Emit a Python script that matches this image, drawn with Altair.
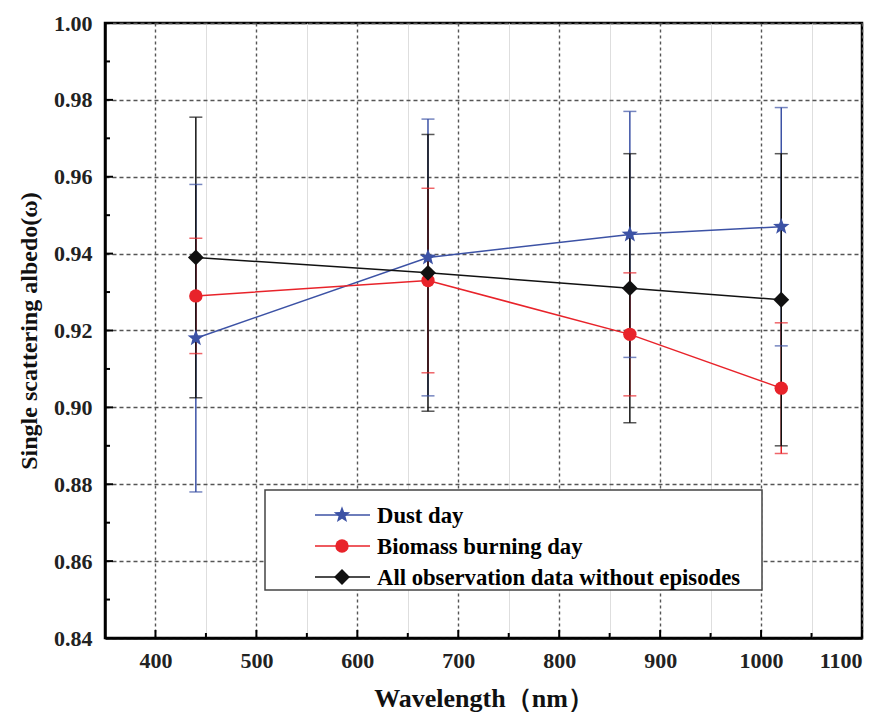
import math
import altair as alt
import pandas as pd

# ---------------- data ----------------
wavelength = [440, 670, 870, 1020]
series_names = ["Dust day", "Biomass burning day", "All observation data without episodes"]
dust_ssa = [0.918, 0.939, 0.945, 0.947]
dust_err = [0.040, 0.036, 0.032, 0.031]
biomass_ssa = [0.929, 0.933, 0.919, 0.905]
biomass_err = [0.015, 0.024, 0.016, 0.017]
all_ssa = [0.939, 0.935, 0.931, 0.928]
all_err = [0.0365, 0.036, 0.035, 0.038]

x_ticks_major = [400, 500, 600, 700, 800, 900, 1000, 1100]
x_ticks_minor = [350, 450, 550, 650, 750, 850, 950, 1050]
y_ticks_major = [0.84, 0.86, 0.88, 0.90, 0.92, 0.94, 0.96, 0.98, 1.00]
y_ticks_minor = [0.85, 0.87, 0.89, 0.91, 0.93, 0.95, 0.97, 0.99]

colors = ["#3c52a5", "#e8232a", "#111111"]

# ---------------- styling ----------------
W, H = 757, 615
FONT = "Liberation Serif, Times New Roman, serif"


def star_path(outer=1.0, inner=0.42):
    pts = []
    for i in range(10):
        r = outer if i % 2 == 0 else inner
        a = -math.pi / 2 + i * math.pi / 5
        pts.append((r * math.cos(a), r * math.sin(a)))
    return "M" + "L".join(f"{x:.3f},{y:.3f}" for x, y in pts) + "Z"


STAR = star_path()
shapes = [STAR, "circle", "diamond"]
sizes = [300, 180, 250]

rows = []
for name, vals, errs in [
    (series_names[0], dust_ssa, dust_err),
    (series_names[1], biomass_ssa, biomass_err),
    (series_names[2], all_ssa, all_err),
]:
    for wl, v, e in zip(wavelength, vals, errs):
        rows.append({"series": name, "wl": wl, "ssa": v, "lo": v - e, "hi": v + e})
df = pd.DataFrame(rows)

xscale = alt.Scale(domain=[350, 1100], nice=False, zero=False)
yscale = alt.Scale(domain=[0.84, 1.00], nice=False, zero=False)
cscale = alt.Scale(domain=series_names, range=colors)
sscale = alt.Scale(domain=series_names, range=shapes)

x_axis = alt.Axis(
    title="Wavelength（nm）",
    values=sorted(x_ticks_major + x_ticks_minor),
    labelExpr="datum.value % 100 === 0 ? datum.label : ''",
    format="d",
    tickSize=0,
    labelPadding=12,
    titlePadding=14,
    titleFontSize=26,
    grid=True,
    gridColor={"condition": {"test": "datum.value % 100 === 0", "value": "#555555"}, "value": "#dedede"},
    gridDash={"condition": {"test": "datum.value % 100 === 0", "value": [3, 3]}, "value": []},
    gridWidth={"condition": {"test": "datum.value % 100 === 0", "value": 1.4}, "value": 1},
)
y_axis = alt.Axis(
    title="Single scattering albedo(ω)",
    values=sorted(y_ticks_major + y_ticks_minor),
    labelExpr="round(datum.value * 100) % 2 === 0 ? format(datum.value, '.2f') : ''",
    tickSize=0,
    labelPadding=13,
    titlePadding=12,
    grid=True,
    gridColor={"condition": {"test": "round(datum.value * 100) % 2 === 0", "value": "#555555"}, "value": "#dedede"},
    gridDash={"condition": {"test": "round(datum.value * 100) % 2 === 0", "value": [4, 3]}, "value": []},
    gridWidth={"condition": {"test": "round(datum.value * 100) % 2 === 0", "value": 1.4}, "value": 1},
)

base = alt.Chart(df)

# error bars
rules = []
caps = []
for name in [series_names[0], series_names[1], series_names[2]]:
    sub = base.transform_filter(alt.datum.series == name)
    rules.append(
        sub.mark_rule(strokeWidth=1.5).encode(
            x=alt.X("wl:Q", scale=xscale, axis=x_axis),
            y=alt.Y("lo:Q", scale=yscale, axis=y_axis),
            y2="hi:Q",
            color=alt.Color("series:N", scale=cscale, legend=None),
        )
    )
for name in [series_names[0], series_names[2], series_names[1]]:
    sub = base.transform_filter(alt.datum.series == name)
    for fld in ["lo", "hi"]:
        caps.append(
            sub.mark_tick(orient="horizontal", size=13, thickness=1.5).encode(
                x=alt.X("wl:Q", scale=xscale),
                y=alt.Y(f"{fld}:Q", scale=yscale),
                color=alt.Color("series:N", scale=cscale, legend=None),
            )
        )

lines = base.mark_line(strokeWidth=1.5).encode(
    x=alt.X("wl:Q", scale=xscale),
    y=alt.Y("ssa:Q", scale=yscale),
    color=alt.Color("series:N", scale=cscale, legend=None),
    detail="series:N",
)

points = []
for idx in [1, 2, 0]:
    name = series_names[idx]
    points.append(
        base.transform_filter(alt.datum.series == name)
        .mark_point(filled=True, opacity=1)
        .encode(
            x=alt.X("wl:Q", scale=xscale),
            y=alt.Y("ssa:Q", scale=yscale),
            color=alt.Color("series:N", scale=cscale, legend=None),
            shape=alt.Shape("series:N", scale=sscale, legend=None),
            size=alt.value(sizes[idx]),
        )
    )

# inward axis ticks
xt_major = alt.Chart(pd.DataFrame({"wl": x_ticks_major})).mark_rule(color="black", strokeWidth=2).encode(
    x=alt.X("wl:Q", scale=xscale), y=alt.value(H), y2=alt.value(H - 8)
)
xt_minor = alt.Chart(pd.DataFrame({"wl": x_ticks_minor})).mark_rule(color="black", strokeWidth=2).encode(
    x=alt.X("wl:Q", scale=xscale), y=alt.value(H), y2=alt.value(H - 5)
)
yt_major = alt.Chart(pd.DataFrame({"ssa": y_ticks_major})).mark_rule(color="black", strokeWidth=2).encode(
    y=alt.Y("ssa:Q", scale=yscale), x=alt.value(0), x2=alt.value(8)
)
yt_minor = alt.Chart(pd.DataFrame({"ssa": y_ticks_minor})).mark_rule(color="black", strokeWidth=2).encode(
    y=alt.Y("ssa:Q", scale=yscale), x=alt.value(0), x2=alt.value(5)
)

# legend box (drawn inside the plot)
LX0, LX1, LY0, LY1 = 160, 657, 467, 567
legend_layers = [
    alt.Chart(pd.DataFrame({"series": ["box"]})).mark_rect(fill="white", stroke="#444444", strokeWidth=1.5).encode(
        x=alt.value(LX0), x2=alt.value(LX1), y=alt.value(LY0), y2=alt.value(LY1)
    )
]
row_y = [492, 523, 554]
for name, c, shp, ry, size in zip(series_names, colors, shapes, row_y, sizes):
    d = alt.Chart(pd.DataFrame({"series": [name]}))
    legend_layers.append(
        d.mark_rule(color=c, strokeWidth=1.5).encode(x=alt.value(210), x2=alt.value(265), y=alt.value(ry))
    )
    legend_layers.append(
        d.mark_point(filled=True, opacity=1, color=c, shape=shp, size=size).encode(
            x=alt.value(237), y=alt.value(ry)
        )
    )
    legend_layers.append(
        d.mark_text(align="left", baseline="middle", font=FONT, fontWeight="bold", fontSize=22.7, color="black").encode(
            x=alt.value(272), y=alt.value(ry + 1), text="series:N"
        )
    )

chart = (
    alt.layer(
        *rules, *caps, lines, *points, xt_major, xt_minor, yt_major, yt_minor, *legend_layers
    )
    .properties(
        width=W,
        height=H,
        autosize=alt.AutoSizeParams(type="none"),
        padding={"left": 97, "top": 15, "right": 20, "bottom": 80},
        background="white",
    )
    .configure_view(stroke="black", strokeWidth=2.5)
    .configure_axis(
        domainColor="black",
        domainWidth=2.5,
        labelFont=FONT,
        labelFontWeight="bold",
        labelFontSize=22,
        labelColor="#222222",
        titleFont=FONT,
        titleFontWeight="bold",
        titleFontSize=24,
        titleColor="#111111",
    )
)

chart.save("out.html", embed_options={"renderer": "svg", "actions": False})
